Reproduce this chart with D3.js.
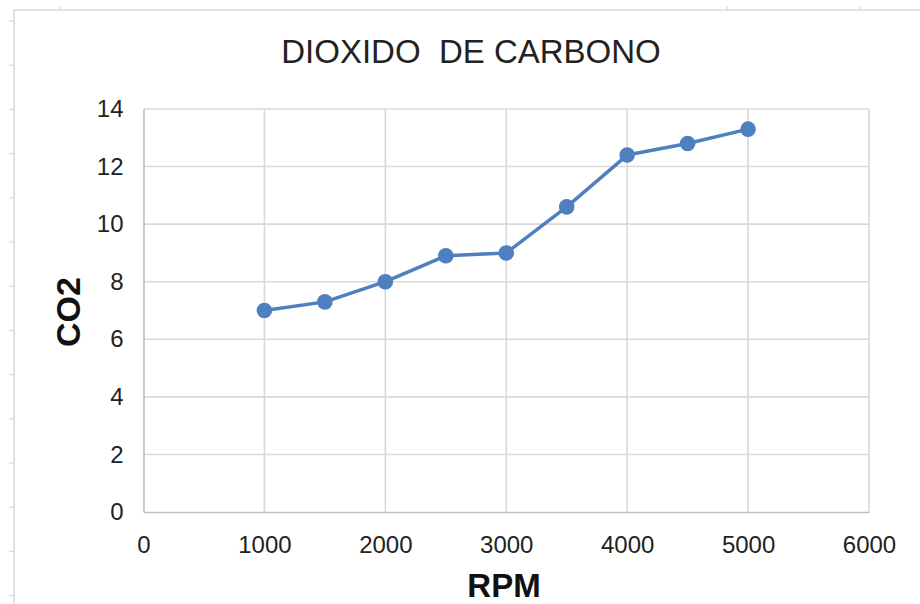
<html>
  <head>
    <script src="https://d3js.org/d3.v7.min.js"></script>
    <style>
      body { margin: 0; background: #fff; }
      text { font-family: "Liberation Sans", Arial, sans-serif; }
    </style>
  </head>
  <body>
    <svg id="chart" width="920" height="604"></svg>
    <script>
      // data
      var rpm = [1000, 1500, 2000, 2500, 3000, 3500, 4000, 4500, 5000];
      var co2 = [7.0, 7.3, 8.0, 8.9, 9.0, 10.6, 12.4, 12.8, 13.3];
      var xTicks = [0, 1000, 2000, 3000, 4000, 5000, 6000];
      var yTicks = [0, 2, 4, 6, 8, 10, 12, 14];
      var title = "DIOXIDO\u00a0 DE CARBONO";
      var xTitle = "RPM";
      var yTitle = "CO2";

      var svg = d3.select("#chart");
      var plotL = 143.5, plotR = 869, plotT = 109, plotB = 512;

      var x = d3.scaleLinear().domain([0, 6000]).range([plotL, plotR]);
      var y = d3.scaleLinear().domain([0, 14]).range([plotB, plotT]);

      // chart frame (spreadsheet container edge)
      svg.append("path")
        .attr("d", "M14,604V10H920")
        .attr("fill", "none")
        .attr("stroke", "#d9d9d9")
        .attr("stroke-width", 1.5);
      d3.range(0, 14).forEach(function(i) {
        svg.append("line")
          .attr("x1", 9).attr("x2", 14)
          .attr("y1", 21 + i * 44.2).attr("y2", 21 + i * 44.2)
          .attr("stroke", "#d9d9d9").attr("stroke-width", 1.2);
      });
      [60, 727, 860].forEach(function(px) {
        svg.append("line")
          .attr("x1", px).attr("x2", px)
          .attr("y1", 6).attr("y2", 10)
          .attr("stroke", "#d9d9d9").attr("stroke-width", 1.2);
      });

      // gridlines
      svg.append("g")
        .selectAll("line")
        .data(yTicks.slice(1))
        .enter().append("line")
          .attr("x1", plotL).attr("x2", plotR)
          .attr("y1", function(d) { return y(d); })
          .attr("y2", function(d) { return y(d); })
          .attr("stroke", "#d9d9d9")
          .attr("stroke-width", 1.6);
      svg.append("g")
        .selectAll("line")
        .data(xTicks.slice(1))
        .enter().append("line")
          .attr("x1", function(d) { return x(d); })
          .attr("x2", function(d) { return x(d); })
          .attr("y1", plotT).attr("y2", plotB)
          .attr("stroke", "#d9d9d9")
          .attr("stroke-width", 1.6);

      // axes
      var xAxis = svg.append("g")
        .attr("transform", "translate(0," + plotB + ")")
        .call(d3.axisBottom(x).tickValues(xTicks).tickSize(0).tickPadding(41).tickFormat(d3.format("d")));
      xAxis.select(".domain").attr("stroke", "#bfbfbf").attr("stroke-width", 1.6);
      xAxis.selectAll("text")
        .attr("dy", 0)
        .attr("font-size", "24px")
        .attr("fill", "#222")
        .style("font-family", "Liberation Sans, Arial, sans-serif");

      var yAxis = svg.append("g")
        .attr("transform", "translate(" + plotL + ",0)")
        .call(d3.axisLeft(y).tickValues(yTicks).tickSize(0).tickPadding(20).tickFormat(d3.format("d")));
      yAxis.select(".domain").attr("stroke", "#bfbfbf").attr("stroke-width", 1.6);
      yAxis.selectAll("text")
        .attr("dy", "0.32em")
        .attr("font-size", "24px")
        .attr("fill", "#222")
        .style("font-family", "Liberation Sans, Arial, sans-serif");

      // series line + markers
      var pts = rpm.map(function(r, i) { return [r, co2[i]]; });
      svg.append("path")
        .datum(pts)
        .attr("fill", "none")
        .attr("stroke", "#4e7fbf")
        .attr("stroke-width", 3.5)
        .attr("stroke-linejoin", "round")
        .attr("d", d3.line()
          .x(function(d) { return x(d[0]); })
          .y(function(d) { return y(d[1]); }));
      svg.append("g")
        .selectAll("circle")
        .data(pts)
        .enter().append("circle")
          .attr("cx", function(d) { return x(d[0]); })
          .attr("cy", function(d) { return y(d[1]); })
          .attr("r", 7.8)
          .attr("fill", "#4e7fbf");

      // titles
      svg.append("text")
        .attr("x", 471)
        .attr("y", 63)
        .attr("text-anchor", "middle")
        .attr("font-size", "33px")
        .attr("fill", "#222")
        .text(title);

      svg.append("text")
        .attr("x", 504)
        .attr("y", 597)
        .attr("text-anchor", "middle")
        .attr("font-size", "33px")
        .attr("font-weight", "bold")
        .attr("fill", "#111")
        .text(xTitle);

      svg.append("text")
        .attr("transform", "translate(80,312) rotate(-90)")
        .attr("text-anchor", "middle")
        .attr("font-size", "34px")
        .attr("font-weight", "bold")
        .attr("fill", "#111")
        .text(yTitle);
    </script>
  </body>
</html>
